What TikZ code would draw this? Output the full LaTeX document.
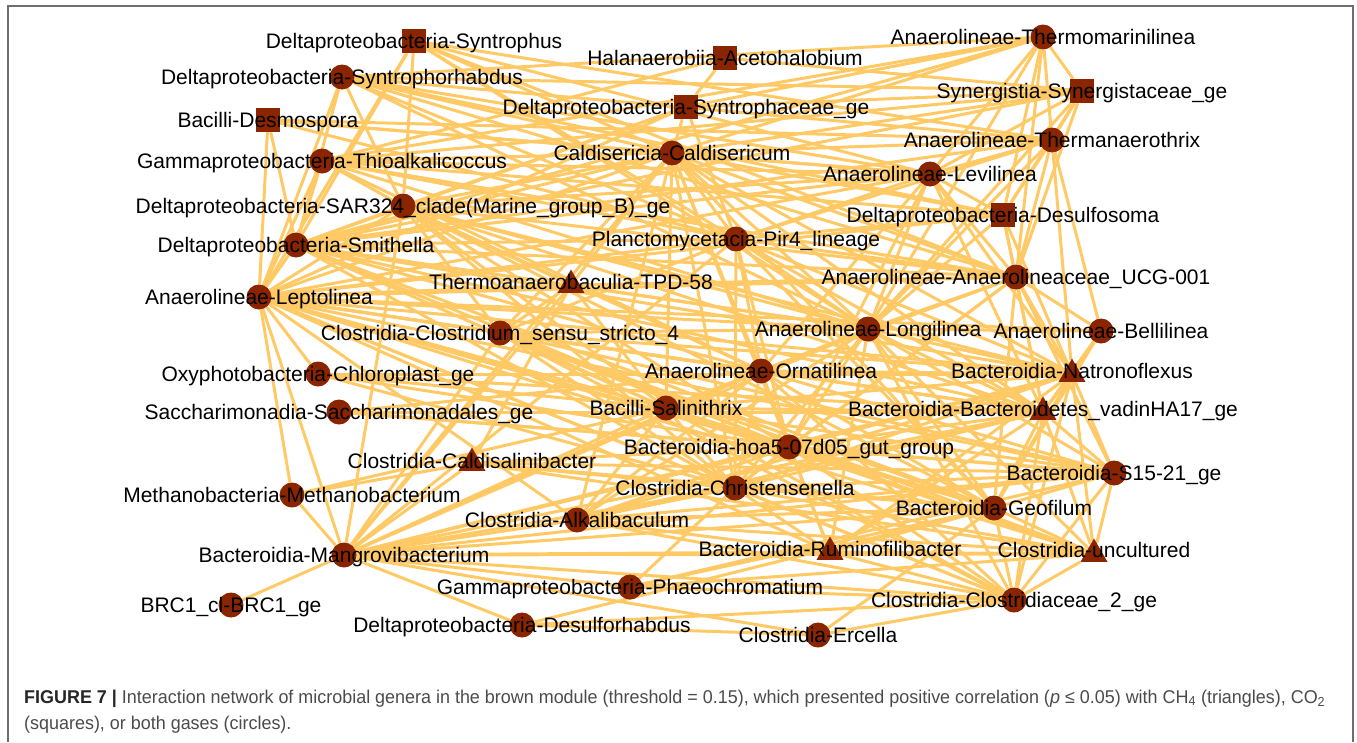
\documentclass[tikz,border=0pt]{standalone}
\usepackage{fontspec}
\setmainfont{Liberation Sans}
\newfontfamily\capfont[FakeStretch=0.97]{Liberation Sans}
\usetikzlibrary{shapes.geometric}
\definecolor{edgec}{RGB}{255,202,102}
\definecolor{nodec}{RGB}{139,37,0}
\definecolor{framec}{RGB}{110,110,110}
\definecolor{capc}{RGB}{75,75,75}
\pgfdeclarelayer{background}
\pgfsetlayers{background,main}
\tikzset{
 circ/.style={circle, fill=nodec, minimum size=25pt, inner sep=0pt},
 sq/.style={rectangle, fill=nodec, minimum size=24pt, inner sep=0pt},
 tri/.style={regular polygon, regular polygon sides=3, fill=nodec, minimum size=31pt, inner sep=0pt},
 lbl/.style={font=\fontsize{21}{25}\selectfont, inner sep=0pt, text=black, text height=15pt, text depth=0pt, anchor=center},
 lnk/.style={draw=edgec, line width=3pt},
 capt/.style={font=\capfont\fontsize{18.5}{22}\selectfont, text=capc, inner sep=0pt, anchor=base west},
}
\begin{document}
\begin{tikzpicture}[x=1pt,y=-1pt]
\useasboundingbox (0,0) rectangle (1357,742);
\draw[framec, line width=1.5pt] (8,742) -- (8,6) -- (1353,6) -- (1353,742);
% nodes
\node[sq]   (Sph) at (414,41) {};
\node[circ] (Srh) at (342,77) {};
\node[sq]   (Des) at (268,120) {};
\node[circ] (Thi) at (322,161) {};
\node[circ] (SAR) at (403,206) {};
\node[circ] (Smi) at (296,245) {};
\node[circ] (Lep) at (259,297) {};
\node[sq]   (Ace) at (725,58) {};
\node[sq]   (Spc) at (686,107) {};
\node[circ] (Cal) at (672,153) {};
\node[circ] (Pir) at (736,239) {};
\node[tri]  (TPD) at (571,285) {};
\node[circ] (Tmm) at (1043,37) {};
\node[sq]   (Syn) at (1082,91) {};
\node[circ] (Tan) at (1052,140) {};
\node[circ] (Lev) at (930,174) {};
\node[sq]   (Dso) at (1003,215) {};
\node[circ] (UCG) at (1016,277) {};
\node[circ] (Lon) at (868,329) {};
\node[circ] (Bel) at (1101,331) {};
\node[circ] (Css) at (500,333) {};
\node[circ] (Chl) at (318,374) {};
\node[circ] (Sac) at (339,412) {};
\node[circ] (Orn) at (761,371) {};
\node[circ] (Sal) at (666,408) {};
\node[tri]  (Nat) at (1072,374) {};
\node[tri]  (vad) at (1043,412) {};
\node[circ] (hoa) at (789,447) {};
\node[tri]  (Cds) at (472,463) {};
\node[circ] (S15) at (1114,473) {};
\node[circ] (Chr) at (735,488) {};
\node[circ] (Met) at (292,495) {};
\node[circ] (Alk) at (577,520) {};
\node[circ] (Geo) at (994,508) {};
\node[circ] (Man) at (344,555) {};
\node[tri]  (Rum) at (830,552) {};
\node[tri]  (Unc) at (1094,554) {};
\node[circ] (Pha) at (630,587) {};
\node[circ] (BRC) at (231,605) {};
\node[circ] (C2g) at (1014,600) {};
\node[circ] (Dfr) at (522,625) {};
\node[circ] (Erc) at (818,635) {};
% edges
\begin{pgfonlayer}{background}
\foreach \a/\b in {
Sph/Smi,Sph/Lep,Sph/Cal,Sph/Lev,Sph/Tan,Sph/UCG,Sph/Lon,Sph/Pir,Sph/SAR,
Srh/Lep,Srh/Smi,Srh/SAR,Srh/Cal,Srh/Lev,Srh/Syn,Srh/Tan,Srh/Lon,Srh/Pir,Srh/UCG,Srh/Dso,
Des/Lep,Des/Smi,Des/Cal,Des/Lev,Des/Tan,Des/Pir,
Thi/Lep,Thi/Smi,Thi/SAR,Thi/Cal,Thi/Lev,Thi/Syn,Thi/Tmm,Thi/Lon,Thi/UCG,Thi/Dso,Thi/Pir,Thi/Orn,
SAR/Lep,SAR/Smi,SAR/Cal,SAR/Man,SAR/Lon,SAR/UCG,SAR/Orn,SAR/Sal,SAR/hoa,SAR/Chr,SAR/Nat,SAR/vad,SAR/Geo,SAR/Lev,SAR/TPD,SAR/Css,
Smi/Lep,Smi/Cal,Smi/Pir,Smi/Lon,Smi/UCG,Smi/Lev,Smi/Tan,Smi/Syn,Smi/Tmm,Smi/Orn,Smi/Sal,Smi/hoa,Smi/Nat,Smi/vad,Smi/Chr,Smi/Geo,
Lep/Chl,Lep/Met,Lep/Man,Lep/Css,Lep/TPD,Lep/Cal,Lep/Pir,Lep/Lon,Lep/UCG,Lep/Orn,Lep/Sal,Lep/hoa,Lep/Chr,Lep/Alk,Lep/Nat,Lep/vad,Lep/S15,Lep/Geo,Lep/Rum,Lep/C2g,Lep/Unc,Lep/Lev,Lep/Dso,Lep/Bel,
Ace/Spc,Ace/Thi,Ace/Syn,
Spc/Cal,Spc/Tmm,Spc/Syn,Spc/Lep,Spc/Smi,Spc/SAR,Spc/Pir,
Cal/Pir,Cal/TPD,Cal/Css,Cal/Lon,Cal/Orn,Cal/Sal,Cal/hoa,Cal/Chr,Cal/UCG,Cal/Lev,Cal/Tan,Cal/Tmm,Cal/Syn,Cal/Nat,Cal/vad,Cal/Geo,Cal/Man,Cal/Alk,Cal/Dso,
Pir/Lon,Pir/UCG,Pir/Orn,Pir/hoa,Pir/Chr,Pir/Nat,Pir/vad,Pir/Geo,Pir/Lev,Pir/Tan,Pir/Dso,Pir/Css,Pir/Man,
TPD/Man,TPD/Lon,TPD/UCG,TPD/Sal,TPD/Css,TPD/Cds,
Tmm/Syn,Tmm/Tan,Tmm/Lev,Tmm/UCG,Tmm/Dso,Tmm/Lon,Tmm/Srh,
Syn/Tan,Syn/Lev,Syn/UCG,Syn/Dso,Syn/Lon,
Tan/Lev,Tan/UCG,Tan/Dso,Tan/Bel,Tan/Lon,Tan/Nat,
Lev/UCG,Lev/Dso,Lev/Lon,Lev/Nat,Lev/vad,Lev/Orn,Lev/hoa,
Dso/UCG,Dso/Lon,Dso/Nat,Dso/vad,
UCG/Lon,UCG/Bel,UCG/Nat,UCG/vad,UCG/Orn,UCG/hoa,UCG/Chr,UCG/S15,UCG/Geo,
Lon/Orn,Lon/Sal,Lon/hoa,Lon/Chr,Lon/Nat,Lon/vad,Lon/S15,Lon/Geo,Lon/Bel,Lon/Css,Lon/Man,Lon/Alk,Lon/Rum,Lon/C2g,Lon/Unc,
Bel/Nat,Bel/vad,Bel/Geo,
Css/Man,Css/Sal,Css/Orn,Css/hoa,Css/Chr,Css/Nat,Css/vad,Css/Geo,Css/S15,Css/C2g,Css/Unc,
Chl/Sal,Chl/Chr,Chl/hoa,Chl/Nat,Chl/vad,
Sac/Orn,Sac/hoa,Sac/vad,Sac/S15,
Orn/hoa,Orn/Chr,Orn/Nat,Orn/vad,Orn/S15,Orn/Geo,Orn/Man,Orn/Alk,Orn/C2g,Orn/Sal,Orn/Rum,
Sal/hoa,Sal/Chr,Sal/Nat,Sal/vad,Sal/S15,Sal/Geo,Sal/Man,Sal/Alk,Sal/Met,Sal/C2g,Sal/Unc,
Nat/vad,Nat/S15,Nat/Geo,Nat/Unc,Nat/C2g,Nat/hoa,Nat/Chr,Nat/Man,Nat/Alk,Nat/Rum,
vad/S15,vad/Geo,vad/Unc,vad/C2g,vad/hoa,vad/Chr,vad/Man,vad/Alk,vad/Rum,
hoa/Chr,hoa/S15,hoa/Geo,hoa/C2g,hoa/Man,hoa/Alk,hoa/Rum,hoa/Unc,hoa/Cds,
Cds/Met,Cds/Man,Cds/Chr,Cds/S15,Cds/Geo,Cds/Unc,
S15/Geo,S15/Unc,S15/C2g,S15/Chr,S15/Man,S15/Alk,
Chr/Man,Chr/Alk,Chr/Geo,Chr/Rum,Chr/C2g,Chr/Unc,Chr/Pha,
Alk/Man,Alk/Geo,Alk/C2g,Alk/Rum,Alk/Unc,
Geo/Unc,Geo/C2g,Geo/Man,Geo/Rum,Geo/Erc,
Man/BRC,Man/Pha,Man/Dfr,Man/Erc,Man/C2g,Man/Unc,Man/Rum,Man/Met,
Rum/C2g,Rum/Unc,Unc/C2g,Pha/C2g,Pha/Geo,Pha/Unc,Pha/S15,Dfr/C2g,Dfr/Erc,Dfr/Geo,Erc/C2g}
\draw[lnk] (\a) -- (\b);
\end{pgfonlayer}
% labels
\node[lbl] (tSph) at (Sph) {Deltaproteobacteria-Syntrophus};
\node[lbl] (tSrh) at (Srh) {Deltaproteobacteria-Syntrophorhabdus};
\node[lbl] (tDes) at (Des) {Bacilli-Desmospora};
\node[lbl] (tThi) at (Thi) {Gammaproteobacteria-Thioalkalicoccus};
\node[lbl] (tSAR) at (SAR) {Deltaproteobacteria-SAR324\_clade(Marine\_group\_B)\_ge};
\node[lbl] (tSmi) at (Smi) {Deltaproteobacteria-Smithella};
\node[lbl] (tLep) at (Lep) {Anaerolineae-Leptolinea};
\node[lbl] (tAce) at (Ace) {Halanaerobiia-Acetohalobium};
\node[lbl] (tSpc) at (Spc) {Deltaproteobacteria-Syntrophaceae\_ge};
\node[lbl] (tCal) at (Cal) {Caldisericia-Caldisericum};
\node[lbl] (tPir) at (Pir) {Planctomycetacia-Pir4\_lineage};
\node[lbl] (tTPD) at (571,282) {Thermoanaerobaculia-TPD-58};
\node[lbl] (tTmm) at (Tmm) {Anaerolineae-Thermomarinilinea};
\node[lbl] (tSyn) at (Syn) {Synergistia-Synergistaceae\_ge};
\node[lbl] (tTan) at (Tan) {Anaerolineae-Thermanaerothrix};
\node[lbl] (tLev) at (Lev) {Anaerolineae-Levilinea};
\node[lbl] (tDso) at (Dso) {Deltaproteobacteria-Desulfosoma};
\node[lbl] (tUCG) at (UCG) {Anaerolineae-Anaerolineaceae\_UCG-001};
\node[lbl] (tLon) at (Lon) {Anaerolineae-Longilinea};
\node[lbl] (tBel) at (Bel) {Anaerolineae-Bellilinea};
\node[lbl] (tCss) at (Css) {Clostridia-Clostridium\_sensu\_stricto\_4};
\node[lbl] (tChl) at (Chl) {Oxyphotobacteria-Chloroplast\_ge};
\node[lbl] (tSac) at (Sac) {Saccharimonadia-Saccharimonadales\_ge};
\node[lbl] (tOrn) at (Orn) {Anaerolineae-Ornatilinea};
\node[lbl] (tSal) at (Sal) {Bacilli-Salinithrix};
\node[lbl] (tNat) at (1072,371) {Bacteroidia-Natronoflexus};
\node[lbl] (tvad) at (1043,409) {Bacteroidia-Bacteroidetes\_vadinHA17\_ge};
\node[lbl] (thoa) at (hoa) {Bacteroidia-hoa5-07d05\_gut\_group};
\node[lbl] (tCds) at (472,461) {Clostridia-Caldisalinibacter};
\node[lbl] (tS15) at (S15) {Bacteroidia-S15-21\_ge};
\node[lbl] (tChr) at (Chr) {Clostridia-Christensenella};
\node[lbl] (tMet) at (Met) {Methanobacteria-Methanobacterium};
\node[lbl] (tAlk) at (Alk) {Clostridia-Alkalibaculum};
\node[lbl] (tGeo) at (Geo) {Bacteroidia-Geofilum};
\node[lbl] (tMan) at (Man) {Bacteroidia-Mangrovibacterium};
\node[lbl] (tRum) at (830,549) {Bacteroidia-Ruminofilibacter};
\node[lbl] (tUnc) at (1094,550) {Clostridia-uncultured};
\node[lbl] (tPha) at (Pha) {Gammaproteobacteria-Phaeochromatium};
\node[lbl] (tBRC) at (BRC) {BRC1\_cl-BRC1\_ge};
\node[lbl] (tC2g) at (C2g) {Clostridia-Clostridiaceae\_2\_ge};
\node[lbl] (tDfr) at (Dfr) {Deltaproteobacteria-Desulforhabdus};
\node[lbl] (tErc) at (Erc) {Clostridia-Ercella};
% caption
\node[capt] (cap1) at (24,703) {{\bfseries\color{black!85}FIGURE 7 |} Interaction network of microbial genera in the brown module (threshold = 0.15), which presented positive correlation (\textit{p} ≤ 0.05) with CH\textsubscript{4} (triangles), CO\textsubscript{2}};
\node[capt] (cap2) at (24,729) {(squares), or both gases (circles).};
\end{tikzpicture}
\end{document}
